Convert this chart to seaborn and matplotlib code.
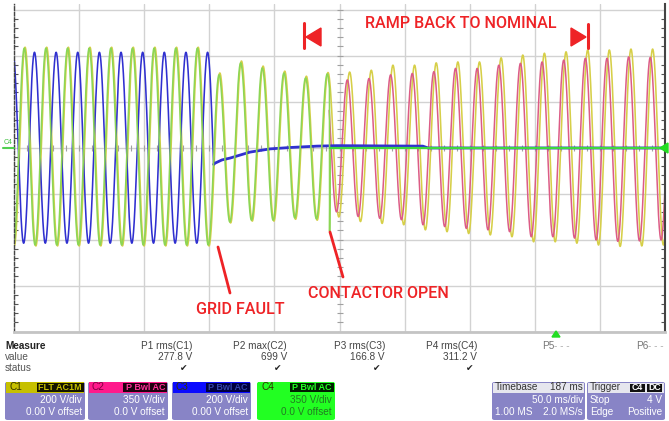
import numpy as np
import pandas as pd
import matplotlib
matplotlib.use("Agg")
import matplotlib.pyplot as plt
import seaborn as sns
from matplotlib.patches import Polygon, FancyBboxPatch
from matplotlib.lines import Line2D
from matplotlib.ticker import MultipleLocator

# ---------------- data (screen divisions; time in ms) ----------------
PERIOD_MS = 16.62
GREEN_FIRST_EXT_MS = -0.41        # first C4 extremum (trough)
YELLOW_FIRST_EXT_MS = -8.12       # first C1 extremum (peak)
RED_FIRST_EXT_MS = 239.4          # first C2 extremum (peak)
BLUE_FIRST_EXT_MS = -0.90         # first C3 extremum (peak)
BLUE_FAULT_MS = 153.3
CONTACTOR_MS = 242.4

C4_EXT = [-2.12, 2.16, -2.12, 2.16, -2.12, 2.16, -2.12, 2.16, -2.12, 2.16,
          -2.12, 2.16, -2.12, 2.16, -2.12, 2.16, -2.12, 2.16, -2.12,
          1.58, -1.62, 1.84, -1.58, 1.73, -1.58, 1.62, -1.53, 1.51, -1.55,
          1.60, -1.51]
C4_SPIKE_MS = [242.4, 242.9]
C4_SPIKE_DIV = [-1.82, -0.01]
C4_OFF_MS = [242.9, 500.0]
C4_OFF_DIV = [-0.01, -0.01]

# C1 (yellow) alternating peak/trough values
C1_EXT = [2.18,
          -2.14, 2.18, -2.14, 2.18, -2.14, 2.18, -2.14, 2.18, -2.14, 2.18,
          -2.14, 2.18, -2.14, 2.18, -2.14, 2.18, -2.14, 2.18, -2.14,
          1.62, -1.64, 1.88, -1.60, 1.77, -1.60, 1.66, -1.56, 1.55, -1.58,
          1.63, -1.51,
          1.64, -1.61, 1.68, -1.65, 1.79, -1.68, 1.79, -1.79, 1.84, -1.83,
          1.86, -1.87, 1.86, -1.90, 1.95, -1.94, 2.01, -2.05, 2.05, -2.05,
          2.08, -2.08, 2.12, -2.12, 2.12, -2.15, 2.14, -2.14, 2.14, -2.12,
          2.14]

# C2 (red) after contactor opening
C2_EXT = [1.50, -1.40, 1.47, -1.50, 1.50, -1.54, 1.58, -1.57, 1.61, -1.68,
          1.65, -1.72, 1.72, -1.76, 1.72, -1.79, 1.79, -1.83, 1.83, -1.94,
          1.86, -1.94, 1.90, -1.97, 1.94, -2.01, 1.94, -2.04, 1.97, -2.03,
          1.96, -2.01, 1.96]

# C3 (blue) before the fault, then decaying offset
C3_EXT = [2.07, -2.08, 2.07, -2.08, 2.07, -2.08, 2.07, -2.08, 2.07, -2.08,
          2.07, -2.08, 2.07, -2.08, 2.07, -2.08, 2.07, -2.08, 2.07, -2.08]
C3_DECAY_MS = [154.4, 159.7, 165.9, 181.2, 196.6, 212.0, 232.7, 248.0, 314.0, 318.0, 500.0]
C3_DECAY_DIV = [-0.34, -0.27, -0.23, -0.10, -0.03, 0.00, 0.03, 0.04, 0.03, -0.01, -0.01]

MEAS_NAMES = ["P1 rms(C1)", "P2 max(C2)", "P3 rms(C3)", "P4 rms(C4)"]
MEAS_VALUES = ["277.8 V", "699 V", "166.8 V", "311.2 V"]

# ---------------- helpers ----------------
W, H = 669, 421


def fx(p):
    return p / W


def fy(p):
    return 1 - p / H


def wave(t, t0, ext):
    ext = np.asarray(ext, float)
    half = PERIOD_MS / 2
    tk = t0 + half * np.arange(len(ext))
    i = np.clip(np.searchsorted(tk, t, side="right") - 1, 0, len(ext) - 2)
    ph = np.clip((t - tk[i]) / half, 0, 1)
    a, b = ext[i], ext[i + 1]
    return (a + b) / 2 + (a - b) / 2 * np.cos(np.pi * ph)


t = np.arange(0, 500.001, 0.1)

tg = t[t < CONTACTOR_MS]
green_on = pd.DataFrame({"t": np.r_[tg, C4_SPIKE_MS],
                         "v": np.r_[wave(tg, GREEN_FIRST_EXT_MS, C4_EXT), C4_SPIKE_DIV]})
green_off = pd.DataFrame({"t": C4_OFF_MS, "v": C4_OFF_DIV})
yellow = pd.DataFrame({"t": t, "v": wave(t, YELLOW_FIRST_EXT_MS, C1_EXT)})
tr = t[t >= CONTACTOR_MS - 0.3]
red = pd.DataFrame({"t": tr, "v": wave(tr, RED_FIRST_EXT_MS, C2_EXT)})
tb = t[t <= BLUE_FAULT_MS]
blue_sine = pd.DataFrame({"t": tb, "v": wave(tb, BLUE_FIRST_EXT_MS, C3_EXT)})
blue_decay = pd.DataFrame({"t": np.r_[tb[-1], C3_DECAY_MS],
                           "v": np.r_[blue_sine["v"].iloc[-1], C3_DECAY_DIV]})

# ---------------- figure ----------------
sns.set_theme(style="white")
plt.rcParams["font.family"] = ["Liberation Sans", "DejaVu Sans"]

fig = plt.figure(figsize=(6.69, 4.21), dpi=100)
fig.patch.set_facecolor("white")
ax = fig.add_axes([fx(14), fy(331.5), fx(665) - fx(14), fy(4) - fy(331.5)])
ax.set_xlim(0, 500)
ax.set_ylim(-4, 3.12)
ax.set_xticks(np.arange(0, 501, 50))
ax.set_yticks(np.arange(-4, 4, 1))
ax.grid(True, color="#d2d2d2", lw=1.0)
ax.set_xticklabels([])
ax.set_yticklabels([])
ax.yaxis.set_minor_locator(MultipleLocator(0.2))
ax.tick_params(which="major", length=0)
ax.tick_params(which="minor", axis="y", direction="in", length=3, width=0.8,
               color="#555555", left=True, right=True)
ax.spines["top"].set_visible(False)
ax.spines["left"].set_color("#444444")
ax.spines["left"].set_linestyle((0, (2.5, 1.5)))
ax.spines["left"].set_linewidth(1.0)
ax.spines["right"].set_color("#444444")
ax.spines["right"].set_linewidth(1.5)
ax.spines["bottom"].set_color("#c4c4c4")
ax.spines["bottom"].set_linewidth(2.0)

# centre-line minor ticks
cy = np.arange(-4, 3.1, 0.2)
ax.plot(np.full_like(cy, 250), cy, ls="none", marker="_", ms=4, color="#a0a0a0", mew=0.8)
cx = np.arange(0, 501, 10)
ax.plot(cx, np.zeros_like(cx, dtype=float), ls="none", marker="|", ms=4, color="#a0a0a0", mew=0.8)

YEL, RED_C, BLU, GRN, GRN_FLAT = "#d6cf48", "#dc5c86", "#3030d0", "#8cd655", "#3ed83e"
kw = dict(ax=ax, estimator=None, sort=False, legend=False)
sns.lineplot(data=yellow, x="t", y="v", color=YEL, linewidth=1.15, **kw)
sns.lineplot(data=red, x="t", y="v", color=RED_C, linewidth=1.1, **kw)
sns.lineplot(data=blue_sine, x="t", y="v", color=BLU, linewidth=1.15, **kw)
sns.lineplot(data=blue_decay, x="t", y="v", color=BLU, linewidth=2.0, **kw)
sns.lineplot(data=green_on, x="t", y="v", color=GRN, linewidth=1.15, **kw)
sns.lineplot(data=green_off, x="t", y="v", color=GRN_FLAT, linewidth=1.6, **kw)
ax.set_xlabel("")
ax.set_ylabel("")

# markers at edges
fig.text(fx(8), fy(143), "C4", color="#40c040", fontsize=5, ha="center", va="center")
fig.add_artist(Line2D([fx(3), fx(14)], [fy(148), fy(148)], color="#50d050", lw=1.5))
fig.add_artist(Polygon([[fx(660), fy(148)], [fx(668), fy(143)], [fx(668), fy(153)]],
                       closed=True, color="#22dd22", transform=fig.transFigure))
fig.add_artist(Polygon([[fx(556), fy(331)], [fx(552), fy(337)], [fx(560), fy(337)]],
                       closed=True, color="#22dd22", transform=fig.transFigure))

# ---------------- annotations ----------------
RED = "#ee2326"
AF = dict(family=["Roboto", "DejaVu Sans"], weight="medium", color=RED, fontsize=11.6)
fig.text(fx(365), fy(23), "RAMP BACK TO NOMINAL", ha="left", va="center", **AF)
fig.text(fx(196), fy(310), "GRID FAULT", ha="left", va="center", **AF)
fig.text(fx(308), fy(293), "CONTACTOR OPEN", ha="left", va="center", **AF)
fig.add_artist(Line2D([fx(218), fx(230)], [fy(247), fy(293)], color=RED, lw=2.0))
fig.add_artist(Line2D([fx(330), fx(343)], [fy(232), fy(277)], color=RED, lw=2.0))
fig.add_artist(Line2D([fx(304), fx(304)], [fy(23), fy(48)], color=RED, lw=2.2))
fig.add_artist(Polygon([[fx(306), fy(37)], [fx(321), fy(28)], [fx(321), fy(46)]],
                       closed=True, color=RED, transform=fig.transFigure))
fig.add_artist(Line2D([fx(588), fx(588)], [fy(24), fy(48)], color=RED, lw=2.2))
fig.add_artist(Polygon([[fx(586), fy(37)], [fx(571), fy(28)], [fx(571), fy(46)]],
                       closed=True, color=RED, transform=fig.transFigure))

# ---------------- measurement table ----------------
TF = dict(fontsize=7.2, family=["Liberation Sans", "DejaVu Sans"])
fig.text(fx(5), fy(346), "Measure", ha="left", va="center", weight="bold", color="#222222", **TF)
fig.text(fx(5), fy(357), "value", ha="left", va="center", color="#555555", **TF)
fig.text(fx(5), fy(368), "status", ha="left", va="center", color="#555555", **TF)
col_right = [192, 287, 385, 477]
check_x = [184, 278, 377, 470]
for name, val, xr, xc in zip(MEAS_NAMES, MEAS_VALUES, col_right, check_x):
    fig.text(fx(xr), fy(346), name, ha="right", va="center", color="#444444", **TF)
    fig.text(fx(xr), fy(357), val, ha="right", va="center", color="#444444", **TF)
    fig.text(fx(xc), fy(368), "\u2714", ha="center", va="center", color="#222222",
             fontsize=6.5, family="DejaVu Sans")
fig.text(fx(542), fy(346), "P5", ha="left", va="center", color="#777777", **TF)
fig.text(fx(554), fy(346), "- - -", ha="left", va="center", color="#aaaaaa", **TF)
fig.text(fx(636), fy(346), "P6", ha="left", va="center", color="#777777", **TF)
fig.text(fx(648), fy(346), "- - -", ha="left", va="center", color="#aaaaaa", **TF)

# ---------------- channel boxes ----------------
LAV = "#8884c6"


def box(x0, x1, y0, y1, color):
    fig.add_artist(FancyBboxPatch((fx(x0), fy(y1)), fx(x1) - fx(x0), fy(y0) - fy(y1),
                                  boxstyle="round,pad=0,rounding_size=0.004",
                                  transform=fig.transFigure, facecolor=color,
                                  edgecolor="none"))


def rect(x0, x1, y0, y1, color):
    fig.add_artist(plt.Rectangle((fx(x0), fy(y1)), fx(x1) - fx(x0), fy(y0) - fy(y1),
                                 transform=fig.transFigure, facecolor=color,
                                 edgecolor="none"))


channels = [
    ("C1", 5, 85, "#c6c000", "#151500", ["FLT", "AC1M"], "#c6c000", LAV, "white",
     "200 V/div", "0.00 V offset"),
    ("C2", 88, 168, "#ff1a8c", "#200010", ["P", "Bwl", "AC"], "#ff3399", LAV, "white",
     "350 V/div", "0.0 V offset"),
    ("C3", 172, 251, "#0a0aff", "#000040", ["P", "Bwl", "AC"], "#3344aa", LAV, "white",
     "200 V/div", "0.00 V offset"),
    ("C4", 257, 335, "#22ff22", "#002000", ["P", "Bwl", "AC"], "#22ff22", "#22ff22",
     "#227a22", "350 V/div", "0.0 V offset"),
]
for name, x0, x1, hcol, bcol, tags, tcol, body, btxt, l1, l2 in channels:
    box(x0, x1, 382, 420, body)
    rect(x0 + 1, x1 - 1, 382, 393, hcol)
    tag_x0 = x1 - 1 - (47 if len(tags) == 2 else 44)
    rect(tag_x0, x1 - 1, 383, 392, bcol)
    fig.text(fx(x0 + 4), fy(387.5), name, ha="left", va="center",
             color="#333300" if name != "C2" else "#800040", **TF)
    fig.text(fx(x1 - 3), fy(387.5), " ".join(tags), ha="right", va="center",
             color=tcol, fontsize=6.5, family="Liberation Sans", weight="bold")
    fig.text(fx(x1 - 3), fy(400), l1, ha="right", va="center", color=btxt, **TF)
    fig.text(fx(x1 - 3), fy(412), l2, ha="right", va="center", color=btxt, **TF)

# timebase box
box(492, 585, 382, 420, LAV)
rect(493, 584, 383, 393, "#e6e6ee")
fig.text(fx(495), fy(387.5), "Timebase", ha="left", va="center", color="#333333", **TF)
fig.text(fx(583), fy(387.5), "187 ms", ha="right", va="center", color="#333333", **TF)
fig.text(fx(583), fy(400), "50.0 ms/div", ha="right", va="center", color="white", **TF)
fig.text(fx(495), fy(412), "1.00 MS", ha="left", va="center", color="white", **TF)
fig.text(fx(583), fy(412), "2.0 MS/s", ha="right", va="center", color="white", **TF)

# trigger box
box(587, 665, 382, 420, LAV)
rect(588, 664, 383, 393, "#e6e6ee")
fig.text(fx(590), fy(387.5), "Trigger", ha="left", va="center", color="#333333", **TF)
rect(630, 645, 384, 392, "#111111")
rect(647, 662, 384, 392, "#111111")
fig.text(fx(637.5), fy(388), "C4", ha="center", va="center", color="white", fontsize=6.3,
         family="Liberation Sans", weight="bold")
fig.text(fx(654.5), fy(388), "DC", ha="center", va="center", color="white", fontsize=6.3,
         family="Liberation Sans", weight="bold")
fig.text(fx(590), fy(400), "Stop", ha="left", va="center", color="white", **TF)
fig.text(fx(662), fy(400), "4 V", ha="right", va="center", color="white", **TF)
fig.text(fx(590), fy(412), "Edge", ha="left", va="center", color="white", **TF)
fig.text(fx(662), fy(412), "Positive", ha="right", va="center", color="white", **TF)

fig.savefig("out.png", dpi=100, facecolor="white")
